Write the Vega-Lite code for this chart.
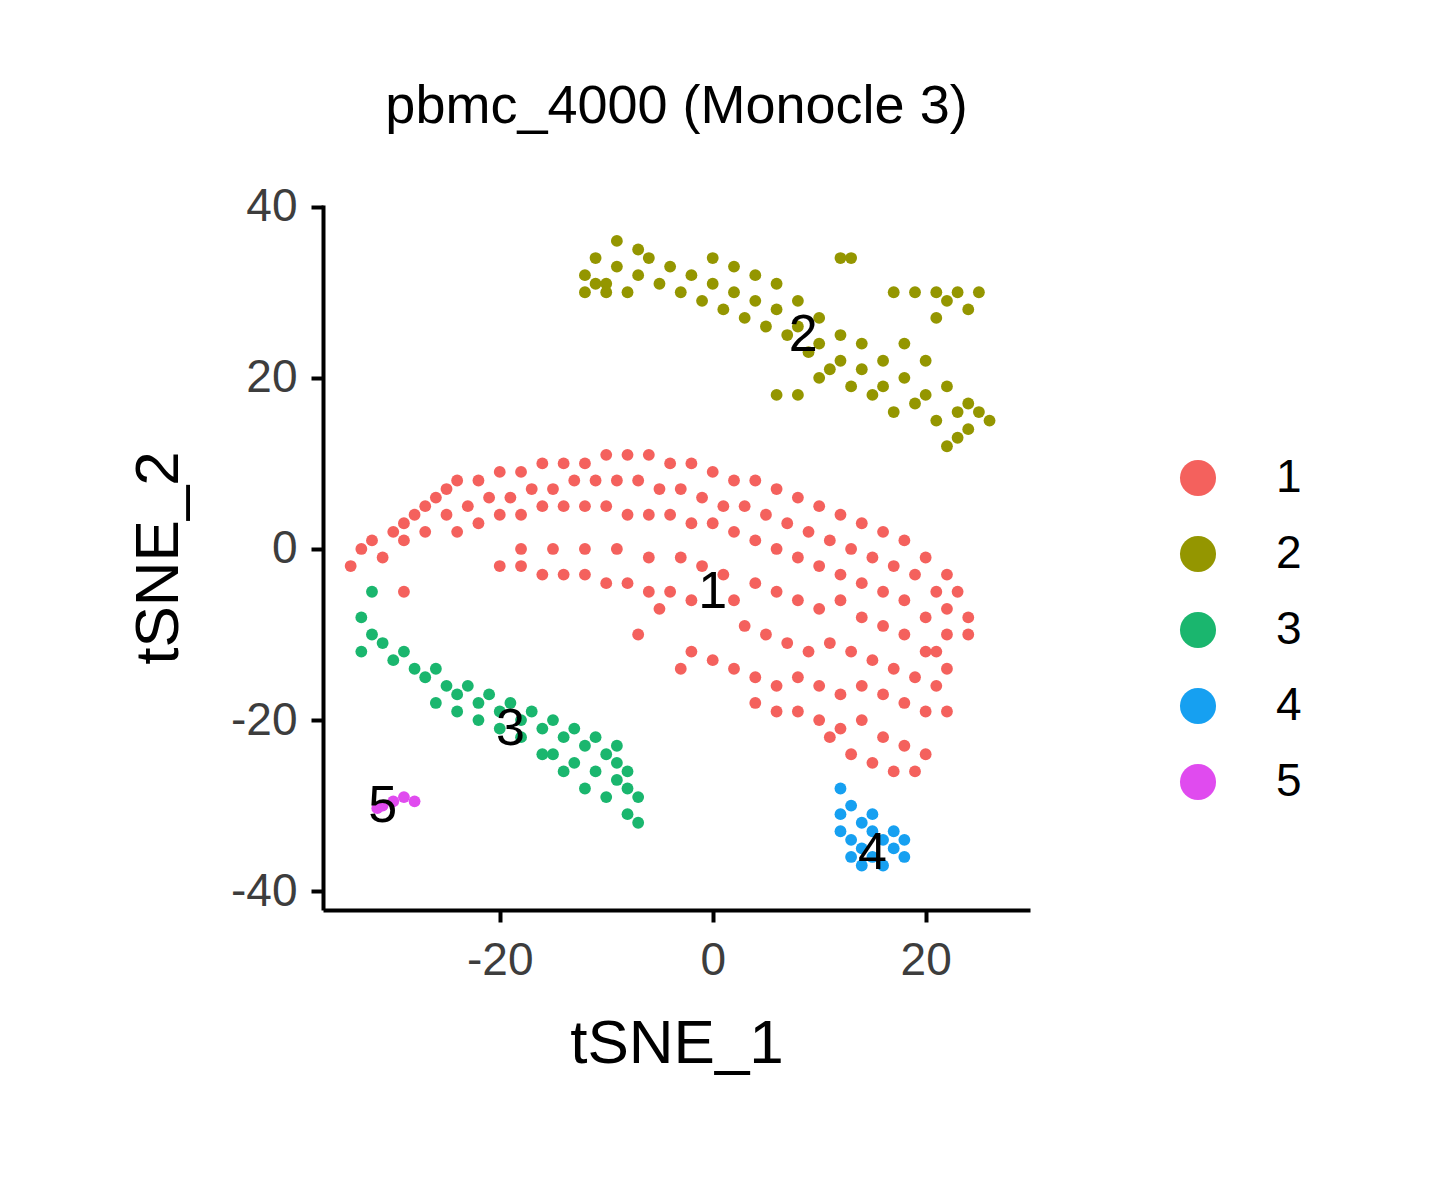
{"$schema":"https://vega.github.io/schema/vega-lite/v6.json","autosize":"none","width":707,"height":705,"padding":{"left":323,"top":205,"right":410,"bottom":290},"background":"white","config":{"font":"Liberation Sans","view":{"stroke":null},"axis":{"grid":false,"domainColor":"black","domainWidth":4,"tickColor":"black","tickWidth":4,"tickSize":12,"labelFontSize":46,"labelColor":"#3d3d3d","titleFontSize":62,"titleFontWeight":"normal","titleColor":"black","labelExpr":"toString(datum.value)"}},"title":{"text":"pbmc_4000 (Monocle 3)","fontSize":54,"fontWeight":"normal","anchor":"middle","offset":50,"color":"black"},
"datasets":{"labs":[{"x":0,"y":-5,"t":"1"},{"x":8.5,"y":25,"t":"2"},{"x":-19,"y":-21,"t":"3"},{"x":15,"y":-35.5,"t":"4"},{"x":-31,"y":-30,"t":"5"}],
"pts":[
{"x":-34,"y":-2,"c":"1"},{"x":-33,"y":0,"c":"1"},{"x":-32,"y":1,"c":"1"},{"x":-30,"y":2,"c":"1"},{"x":-29,"y":3,"c":"1"},{"x":-28,"y":4,"c":"1"},{"x":-27,"y":5,"c":"1"},{"x":-26,"y":6,"c":"1"},{"x":-25,"y":7,"c":"1"},{"x":-24,"y":8,"c":"1"},{"x":-22,"y":8,"c":"1"},{"x":-20,"y":9,"c":"1"},{"x":-18,"y":9,"c":"1"},{"x":-16,"y":10,"c":"1"},{"x":-14,"y":10,"c":"1"},{"x":-12,"y":10,"c":"1"},{"x":-10,"y":11,"c":"1"},{"x":-8,"y":11,"c":"1"},{"x":-6,"y":11,"c":"1"},{"x":-4,"y":10,"c":"1"},{"x":-2,"y":10,"c":"1"},{"x":0,"y":9,"c":"1"},{"x":2,"y":8,"c":"1"},{"x":4,"y":8,"c":"1"},{"x":6,"y":7,"c":"1"},{"x":8,"y":6,"c":"1"},{"x":10,"y":5,"c":"1"},{"x":12,"y":4,"c":"1"},{"x":14,"y":3,"c":"1"},{"x":16,"y":2,"c":"1"},{"x":18,"y":1,"c":"1"},{"x":20,"y":-1,"c":"1"},{"x":22,"y":-3,"c":"1"},{"x":23,"y":-5,"c":"1"},{"x":24,"y":-8,"c":"1"},{"x":24,"y":-10,"c":"1"},
{"x":-31,"y":-1,"c":"1"},{"x":-29,"y":1,"c":"1"},{"x":-27,"y":2,"c":"1"},{"x":-25,"y":4,"c":"1"},{"x":-23,"y":5,"c":"1"},{"x":-21,"y":6,"c":"1"},{"x":-19,"y":6,"c":"1"},{"x":-17,"y":7,"c":"1"},{"x":-15,"y":7,"c":"1"},{"x":-13,"y":8,"c":"1"},{"x":-11,"y":8,"c":"1"},{"x":-9,"y":8,"c":"1"},{"x":-7,"y":8,"c":"1"},{"x":-5,"y":7,"c":"1"},{"x":-3,"y":7,"c":"1"},{"x":-1,"y":6,"c":"1"},{"x":1,"y":5,"c":"1"},{"x":3,"y":5,"c":"1"},{"x":5,"y":4,"c":"1"},{"x":7,"y":3,"c":"1"},{"x":9,"y":2,"c":"1"},{"x":11,"y":1,"c":"1"},{"x":13,"y":0,"c":"1"},{"x":15,"y":-1,"c":"1"},{"x":17,"y":-2,"c":"1"},{"x":19,"y":-3,"c":"1"},{"x":21,"y":-5,"c":"1"},{"x":22,"y":-7,"c":"1"},{"x":22,"y":-10,"c":"1"},
{"x":-24,"y":2,"c":"1"},{"x":-22,"y":3,"c":"1"},{"x":-20,"y":4,"c":"1"},{"x":-18,"y":4,"c":"1"},{"x":-16,"y":5,"c":"1"},{"x":-14,"y":5,"c":"1"},{"x":-12,"y":5,"c":"1"},{"x":-10,"y":5,"c":"1"},{"x":-8,"y":4,"c":"1"},{"x":-6,"y":4,"c":"1"},{"x":-4,"y":4,"c":"1"},{"x":-2,"y":3,"c":"1"},{"x":0,"y":3,"c":"1"},{"x":2,"y":2,"c":"1"},{"x":4,"y":1,"c":"1"},{"x":6,"y":0,"c":"1"},{"x":8,"y":-1,"c":"1"},{"x":10,"y":-2,"c":"1"},{"x":12,"y":-3,"c":"1"},{"x":14,"y":-4,"c":"1"},{"x":16,"y":-5,"c":"1"},{"x":18,"y":-6,"c":"1"},{"x":20,"y":-8,"c":"1"},{"x":21,"y":-12,"c":"1"},
{"x":-20,"y":-2,"c":"1"},{"x":-18,"y":-2,"c":"1"},{"x":-16,"y":-3,"c":"1"},{"x":-14,"y":-3,"c":"1"},{"x":-12,"y":-3,"c":"1"},{"x":-10,"y":-4,"c":"1"},{"x":-8,"y":-4,"c":"1"},{"x":-6,"y":-5,"c":"1"},{"x":-4,"y":-5,"c":"1"},{"x":-18,"y":0,"c":"1"},{"x":-15,"y":0,"c":"1"},{"x":-12,"y":0,"c":"1"},{"x":-9,"y":0,"c":"1"},{"x":-6,"y":-1,"c":"1"},{"x":-3,"y":-1,"c":"1"},{"x":-1,"y":-2,"c":"1"},{"x":1,"y":-3,"c":"1"},{"x":-5,"y":-7,"c":"1"},{"x":-7,"y":-10,"c":"1"},{"x":-2,"y":-6,"c":"1"},
{"x":2,"y":-6,"c":"1"},{"x":4,"y":-4,"c":"1"},{"x":6,"y":-5,"c":"1"},{"x":8,"y":-6,"c":"1"},{"x":10,"y":-7,"c":"1"},{"x":12,"y":-6,"c":"1"},{"x":14,"y":-8,"c":"1"},{"x":16,"y":-9,"c":"1"},{"x":18,"y":-10,"c":"1"},{"x":20,"y":-12,"c":"1"},{"x":3,"y":-9,"c":"1"},{"x":5,"y":-10,"c":"1"},{"x":7,"y":-11,"c":"1"},{"x":9,"y":-12,"c":"1"},{"x":11,"y":-11,"c":"1"},{"x":13,"y":-12,"c":"1"},{"x":15,"y":-13,"c":"1"},{"x":17,"y":-14,"c":"1"},{"x":19,"y":-15,"c":"1"},{"x":21,"y":-16,"c":"1"},{"x":-2,"y":-12,"c":"1"},{"x":0,"y":-13,"c":"1"},{"x":2,"y":-14,"c":"1"},{"x":4,"y":-15,"c":"1"},{"x":6,"y":-16,"c":"1"},{"x":8,"y":-15,"c":"1"},{"x":10,"y":-16,"c":"1"},{"x":12,"y":-17,"c":"1"},{"x":14,"y":-16,"c":"1"},{"x":16,"y":-17,"c":"1"},{"x":18,"y":-18,"c":"1"},{"x":20,"y":-19,"c":"1"},{"x":4,"y":-18,"c":"1"},{"x":6,"y":-19,"c":"1"},{"x":8,"y":-19,"c":"1"},{"x":10,"y":-20,"c":"1"},{"x":12,"y":-21,"c":"1"},{"x":14,"y":-20,"c":"1"},{"x":16,"y":-22,"c":"1"},{"x":18,"y":-23,"c":"1"},{"x":20,"y":-24,"c":"1"},{"x":11,"y":-22,"c":"1"},{"x":13,"y":-24,"c":"1"},{"x":15,"y":-25,"c":"1"},{"x":17,"y":-26,"c":"1"},{"x":19,"y":-26,"c":"1"},{"x":-3,"y":-14,"c":"1"},{"x":22,"y":-14,"c":"1"},{"x":22,"y":-19,"c":"1"},{"x":-29,"y":-5,"c":"1"},
{"x":-12,"y":32,"c":"2"},{"x":-11,"y":34,"c":"2"},{"x":-10,"y":31,"c":"2"},{"x":-9,"y":36,"c":"2"},{"x":-9,"y":33,"c":"2"},{"x":-8,"y":30,"c":"2"},{"x":-7,"y":35,"c":"2"},{"x":-7,"y":32,"c":"2"},{"x":-6,"y":34,"c":"2"},{"x":-5,"y":31,"c":"2"},{"x":-4,"y":33,"c":"2"},{"x":-3,"y":30,"c":"2"},{"x":-2,"y":32,"c":"2"},{"x":-1,"y":29,"c":"2"},{"x":0,"y":34,"c":"2"},{"x":0,"y":31,"c":"2"},{"x":1,"y":28,"c":"2"},{"x":2,"y":33,"c":"2"},{"x":2,"y":30,"c":"2"},{"x":3,"y":27,"c":"2"},{"x":4,"y":32,"c":"2"},{"x":4,"y":29,"c":"2"},{"x":5,"y":26,"c":"2"},{"x":6,"y":31,"c":"2"},{"x":6,"y":28,"c":"2"},{"x":7,"y":25,"c":"2"},{"x":8,"y":29,"c":"2"},{"x":8,"y":26,"c":"2"},{"x":9,"y":23,"c":"2"},{"x":10,"y":27,"c":"2"},{"x":10,"y":24,"c":"2"},{"x":11,"y":21,"c":"2"},{"x":12,"y":25,"c":"2"},{"x":12,"y":22,"c":"2"},{"x":13,"y":19,"c":"2"},{"x":14,"y":24,"c":"2"},{"x":14,"y":21,"c":"2"},{"x":15,"y":18,"c":"2"},{"x":16,"y":22,"c":"2"},{"x":16,"y":19,"c":"2"},{"x":17,"y":16,"c":"2"},{"x":18,"y":24,"c":"2"},{"x":18,"y":20,"c":"2"},{"x":19,"y":17,"c":"2"},{"x":20,"y":22,"c":"2"},{"x":20,"y":18,"c":"2"},{"x":21,"y":15,"c":"2"},{"x":22,"y":19,"c":"2"},{"x":23,"y":16,"c":"2"},{"x":24,"y":14,"c":"2"},{"x":25,"y":16,"c":"2"},{"x":24,"y":17,"c":"2"},{"x":26,"y":15,"c":"2"},{"x":23,"y":13,"c":"2"},{"x":17,"y":30,"c":"2"},{"x":19,"y":30,"c":"2"},{"x":21,"y":30,"c":"2"},{"x":23,"y":30,"c":"2"},{"x":25,"y":30,"c":"2"},{"x":22,"y":29,"c":"2"},{"x":24,"y":28,"c":"2"},{"x":21,"y":27,"c":"2"},{"x":12,"y":34,"c":"2"},{"x":13,"y":34,"c":"2"},{"x":6,"y":18,"c":"2"},{"x":8,"y":18,"c":"2"},{"x":-10,"y":30,"c":"2"},{"x":-11,"y":31,"c":"2"},{"x":-12,"y":30,"c":"2"},{"x":22,"y":12,"c":"2"},{"x":10,"y":20,"c":"2"},
{"x":-32,"y":-5,"c":"3"},{"x":-33,"y":-8,"c":"3"},{"x":-32,"y":-10,"c":"3"},{"x":-33,"y":-12,"c":"3"},{"x":-31,"y":-11,"c":"3"},{"x":-30,"y":-13,"c":"3"},{"x":-29,"y":-12,"c":"3"},{"x":-28,"y":-14,"c":"3"},{"x":-27,"y":-15,"c":"3"},{"x":-26,"y":-14,"c":"3"},{"x":-25,"y":-16,"c":"3"},{"x":-24,"y":-17,"c":"3"},{"x":-23,"y":-16,"c":"3"},{"x":-22,"y":-18,"c":"3"},{"x":-21,"y":-17,"c":"3"},{"x":-20,"y":-19,"c":"3"},{"x":-19,"y":-18,"c":"3"},{"x":-18,"y":-20,"c":"3"},{"x":-17,"y":-19,"c":"3"},{"x":-16,"y":-21,"c":"3"},{"x":-15,"y":-20,"c":"3"},{"x":-14,"y":-22,"c":"3"},{"x":-13,"y":-21,"c":"3"},{"x":-12,"y":-23,"c":"3"},{"x":-11,"y":-22,"c":"3"},{"x":-10,"y":-24,"c":"3"},{"x":-9,"y":-23,"c":"3"},{"x":-15,"y":-24,"c":"3"},{"x":-13,"y":-25,"c":"3"},{"x":-11,"y":-26,"c":"3"},{"x":-9,"y":-27,"c":"3"},{"x":-8,"y":-28,"c":"3"},{"x":-7,"y":-29,"c":"3"},{"x":-8,"y":-31,"c":"3"},{"x":-7,"y":-32,"c":"3"},{"x":-10,"y":-29,"c":"3"},{"x":-12,"y":-28,"c":"3"},{"x":-14,"y":-26,"c":"3"},{"x":-16,"y":-24,"c":"3"},{"x":-18,"y":-22,"c":"3"},{"x":-20,"y":-21,"c":"3"},{"x":-22,"y":-20,"c":"3"},{"x":-24,"y":-19,"c":"3"},{"x":-26,"y":-18,"c":"3"},{"x":-9,"y":-25,"c":"3"},{"x":-8,"y":-26,"c":"3"},
{"x":12,"y":-28,"c":"4"},{"x":12,"y":-31,"c":"4"},{"x":13,"y":-30,"c":"4"},{"x":12,"y":-33,"c":"4"},{"x":13,"y":-34,"c":"4"},{"x":14,"y":-32,"c":"4"},{"x":14,"y":-35,"c":"4"},{"x":15,"y":-33,"c":"4"},{"x":15,"y":-36,"c":"4"},{"x":16,"y":-34,"c":"4"},{"x":16,"y":-37,"c":"4"},{"x":17,"y":-35,"c":"4"},{"x":18,"y":-36,"c":"4"},{"x":14,"y":-37,"c":"4"},{"x":13,"y":-36,"c":"4"},{"x":17,"y":-33,"c":"4"},{"x":15,"y":-31,"c":"4"},{"x":18,"y":-34,"c":"4"},
{"x":-31,"y":-30,"c":"5"},{"x":-30,"y":-29.5,"c":"5"},{"x":-29,"y":-29,"c":"5"},{"x":-28,"y":-29.5,"c":"5"},{"x":-31.5,"y":-30.3,"c":"5"}]},
"layer":[
{"data":{"name":"pts"},"mark":{"type":"circle","size":140,"opacity":1},"encoding":{"x":{"field":"x","type":"quantitative","title":"tSNE_1","scale":{"domain":[-36.6,29.8],"nice":false,"zero":false},"axis":{"values":[-20,0,20],"labelPadding":16,"titlePadding":30}},"y":{"field":"y","type":"quantitative","title":"tSNE_2","scale":{"domain":[-42.2,40.2],"nice":false,"zero":false},"axis":{"values":[-40,-20,0,20,40],"labelPadding":14,"titlePadding":40}},"color":{"field":"c","type":"nominal","scale":{"domain":["1","2","3","4","5"],"range":["#F4615D","#949600","#1AB66E","#16A0F1","#E04BEF"]},"legend":{"title":null,"orient":"none","legendX":852,"legendY":250,"symbolType":"circle","symbolSize":1300,"symbolOpacity":1,"labelFontSize":46,"labelColor":"black","labelOffset":55,"rowPadding":30,"symbolStrokeWidth":0}}}},
{"data":{"name":"labs"},"mark":{"type":"text","fontSize":52,"color":"black"},"encoding":{"x":{"field":"x","type":"quantitative"},"y":{"field":"y","type":"quantitative"},"text":{"field":"t"}}}
]}
